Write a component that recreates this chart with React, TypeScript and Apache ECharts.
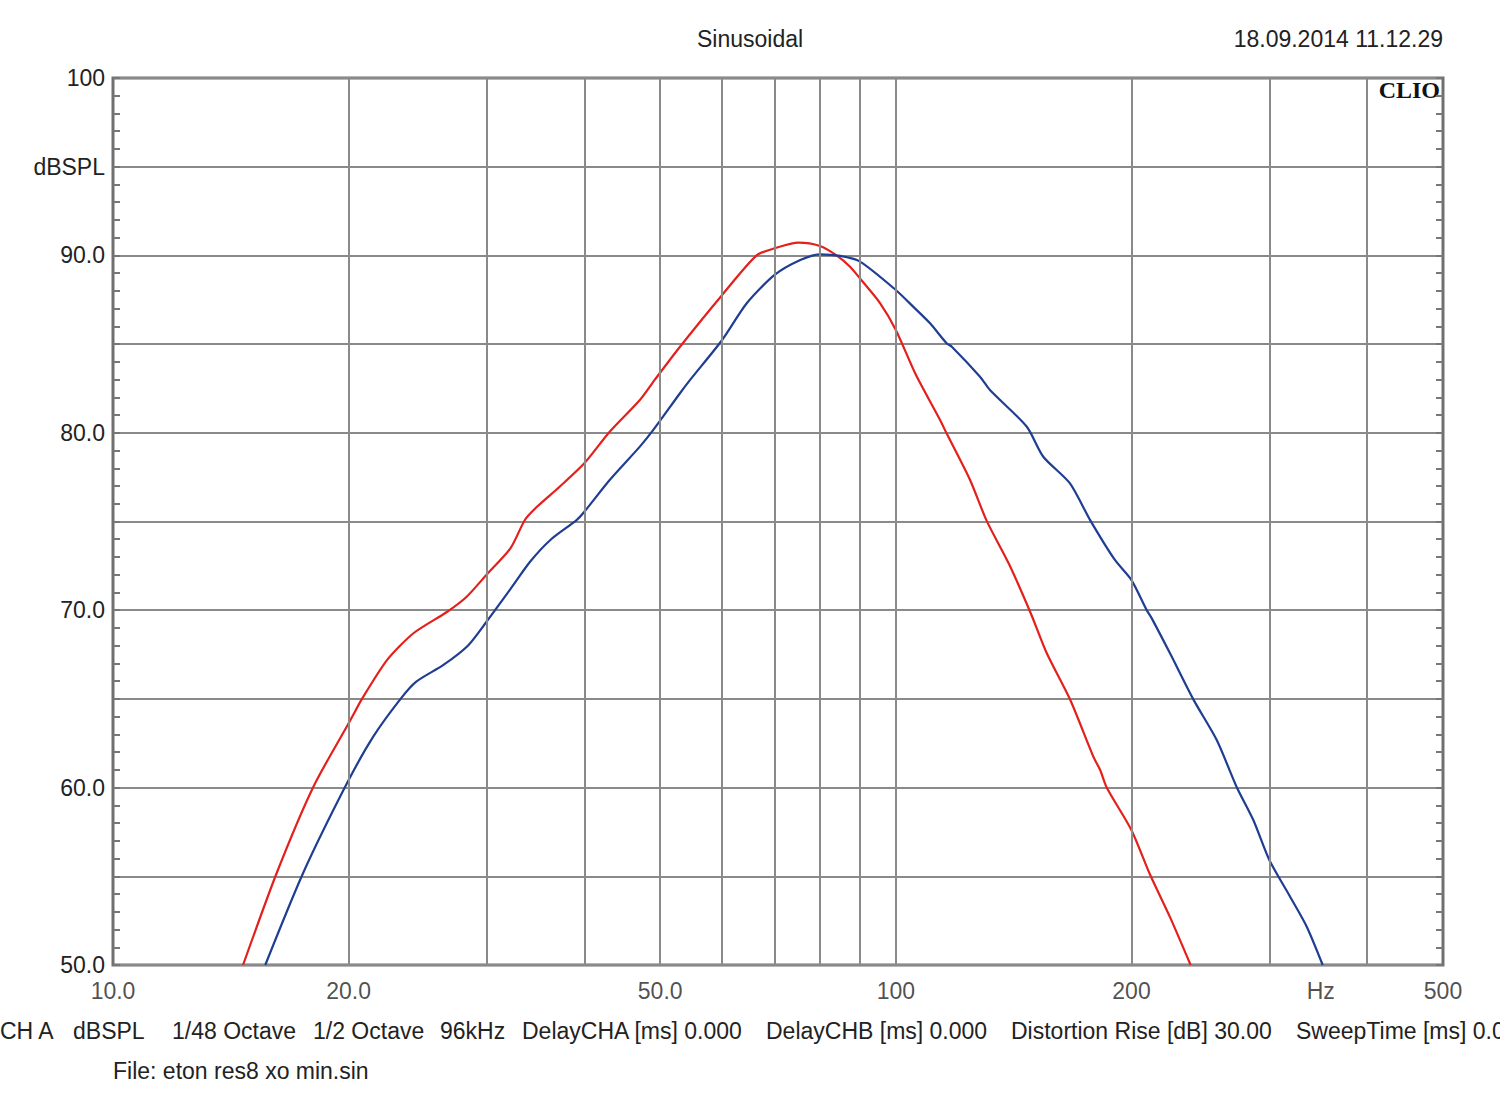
import React, { useEffect, useRef } from "react";
import * as echarts from "echarts";

// Red curve (CH A)
const redFreq = [14.66, 16.19, 18.03, 20.1, 20.8, 22.4, 24.2, 26.7, 28.3, 30.0, 32.2, 33.6, 34.8, 37.2, 40.0, 43.1, 47.1, 49.2, 53.0, 60.0, 66.4, 70.0, 75.1, 80.0, 84.0, 87.4, 90.0, 95.5, 100, 106, 113.9, 116.1, 124.4, 130.6, 139.5, 148.8, 155.9, 166.9, 178.8, 182.4, 186, 200, 211.2, 224, 238];
const redDb = [50.0, 55.2, 60.05, 63.8, 65.0, 67.2, 68.7, 69.9, 70.76, 72.0, 73.5, 75.1, 75.83, 76.96, 78.28, 80.06, 81.85, 82.98, 84.85, 87.77, 90.0, 90.4, 90.72, 90.53, 90.0, 89.36, 88.7, 87.3, 85.8, 83.3, 80.72, 79.97, 77.34, 75.05, 72.6, 69.8, 67.57, 64.98, 61.74, 60.99, 59.99, 57.6, 55.1, 52.7, 50.0];

// Blue curve (CH B)
const blueFreq = [15.65, 17.5, 19.9, 21.5, 23.3, 24.4, 26.4, 28.4, 30.0, 32.2, 34.1, 36.2, 39.1, 40.0, 43.1, 47.1, 49.0, 53.0, 54.6, 60.0, 64.5, 70.0, 75.5, 80.0, 84.9, 90.0, 100, 105.3, 110.6, 116.1, 117.9, 128.1, 131.9, 147.0, 154.3, 166.9, 177.1, 190.5, 200, 209.2, 212.3, 224, 240, 257, 272.6, 286.2, 300, 318.9, 334.9, 351];
const blueDb = [50.0, 55.2, 60.24, 62.87, 65.0, 65.97, 66.9, 68.0, 69.35, 71.2, 72.73, 73.96, 75.08, 75.55, 77.34, 79.22, 80.16, 82.23, 82.98, 85.23, 87.3, 88.9, 89.74, 90.06, 89.97, 89.65, 88.05, 87.1, 86.17, 85.05, 84.85, 83.16, 82.41, 80.34, 78.65, 77.15, 75.08, 72.83, 71.7, 70.0, 69.54, 67.57, 64.96, 62.68, 60.02, 58.17, 55.92, 53.85, 52.16, 50.0];

// Axis ticks / labels
const xGridValues = [20, 30, 40, 50, 60, 70, 80, 90, 100, 200, 300, 400];
const xTickValues = [10, 20, 50, 100, 200, 349, 500];
const xTickLabels = ["10.0", "20.0", "50.0", "100", "200", "Hz", "500"];
const yTickLabels: Record<number, string> = { 50: "50.0", 60: "60.0", 70: "70.0", 80: "80.0", 90: "90.0", 95: "dBSPL", 100: "100" };

const title = "Sinusoidal";
const dateText = "18.09.2014 11.12.29";
const footerItems: [string, number][] = [
  ["CH A", 0],
  ["dBSPL", 73],
  ["1/48 Octave", 172],
  ["1/2 Octave", 313],
  ["96kHz", 440],
  ["DelayCHA [ms] 0.000", 522],
  ["DelayCHB [ms] 0.000", 766],
  ["Distortion Rise [dB] 30.00", 1011],
  ["SweepTime [ms] 0.000", 1296],
];
const fileText = "File: eton res8 xo min.sin";

const FONT = "'Liberation Sans', Arial, sans-serif";
const GRID_COLOR = "#8a8a8a";

export default function App() {
  const ref = useRef<HTMLDivElement>(null);
  useEffect(() => {
    if (!ref.current) return;
    const chart = echarts.init(ref.current, null, { renderer: "svg" });
    const pair = (f: number[], d: number[]) => f.map((v, i) => [v, d[i]]);
    const yAxisBase = {
      type: "value" as const,
      min: 50,
      max: 100,
      interval: 5,
      axisLine: { show: false },
      axisTick: { show: true, inside: true, length: 7, lineStyle: { color: "#777", width: 2 } },
      minorTick: { show: true, splitNumber: 5, length: 7, lineStyle: { color: "#777", width: 2 } },
    };
    chart.setOption({
      animation: false,
      backgroundColor: "#ffffff",
      grid: {
        left: 113,
        top: 78,
        width: 1330,
        height: 887,
        show: true,
        borderColor: "#707070",
        borderWidth: 3,
        backgroundColor: "transparent",
      },
      xAxis: {
        type: "log",
        logBase: 10,
        min: 10,
        max: 500,
        axisLine: { show: false },
        axisTick: { show: false },
        axisLabel: { show: false },
        splitLine: { show: false },
      },
      yAxis: [
        {
          ...yAxisBase,
          position: "left",
          axisLabel: {
            show: true,
            margin: 8,
            fontSize: 23,
            fontFamily: FONT,
            color: "#222",
            formatter: (v: number) => yTickLabels[v] ?? "",
          },
          splitLine: { show: true, lineStyle: { color: GRID_COLOR, width: 2 } },
        },
        {
          ...yAxisBase,
          position: "right",
          axisLabel: { show: false },
          splitLine: { show: false },
        },
      ],
      graphic: [
        { type: "text", left: 697, top: 27, style: { text: title, fontSize: 23, fontFamily: FONT, fill: "#222" } },
        { type: "text", right: 57, top: 27, style: { text: dateText, fontSize: 23, fontFamily: FONT, fill: "#222" } },
        { type: "text", right: 60, top: 78, style: { text: "CLIO", fontSize: 24, fontWeight: "bold", fontFamily: "'Liberation Serif', 'DejaVu Serif', serif", fill: "#111" } },
        ...footerItems.map(([t, x]) => ({
          type: "text",
          left: x,
          top: 1019,
          style: { text: t, fontSize: 23, fontFamily: FONT, fill: "#222" },
        })),
        { type: "text", left: 113, top: 1059, style: { text: fileText, fontSize: 23, fontFamily: FONT, fill: "#222" } },
      ],
      series: [
        {
          name: "axis labels",
          type: "scatter",
          z: 1,
          clip: false,
          silent: true,
          symbolSize: 0,
          data: xTickValues.map((v) => [v, 50]),
          label: {
            show: true,
            position: "bottom",
            distance: 14,
            fontSize: 23,
            fontFamily: FONT,
            color: "#222",
            formatter: (p: any) => xTickLabels[p.dataIndex],
          },
          markLine: {
            silent: true,
            symbol: "none",
            label: { show: false },
            lineStyle: { color: GRID_COLOR, width: 2, type: "solid" },
            data: xGridValues.map((v) => ({ xAxis: v })),
          },
        },
        {
          name: "CH A",
          type: "line",
          z: 3,
          showSymbol: false,
          smooth: 0.25,
          data: pair(redFreq, redDb),
          lineStyle: { color: "#e3201c", width: 2.2 },
          itemStyle: { color: "#e3201c" },
        },
        {
          name: "CH B",
          type: "line",
          z: 4,
          showSymbol: false,
          smooth: 0.25,
          data: pair(blueFreq, blueDb),
          lineStyle: { color: "#1f3d92", width: 2.2 },
          itemStyle: { color: "#1f3d92" },
        },
      ],
    });
    return () => chart.dispose();
  }, []);
  return <div ref={ref} style={{ position: "absolute", left: 0, top: 0, width: 1500, height: 1110 }} />;
}
